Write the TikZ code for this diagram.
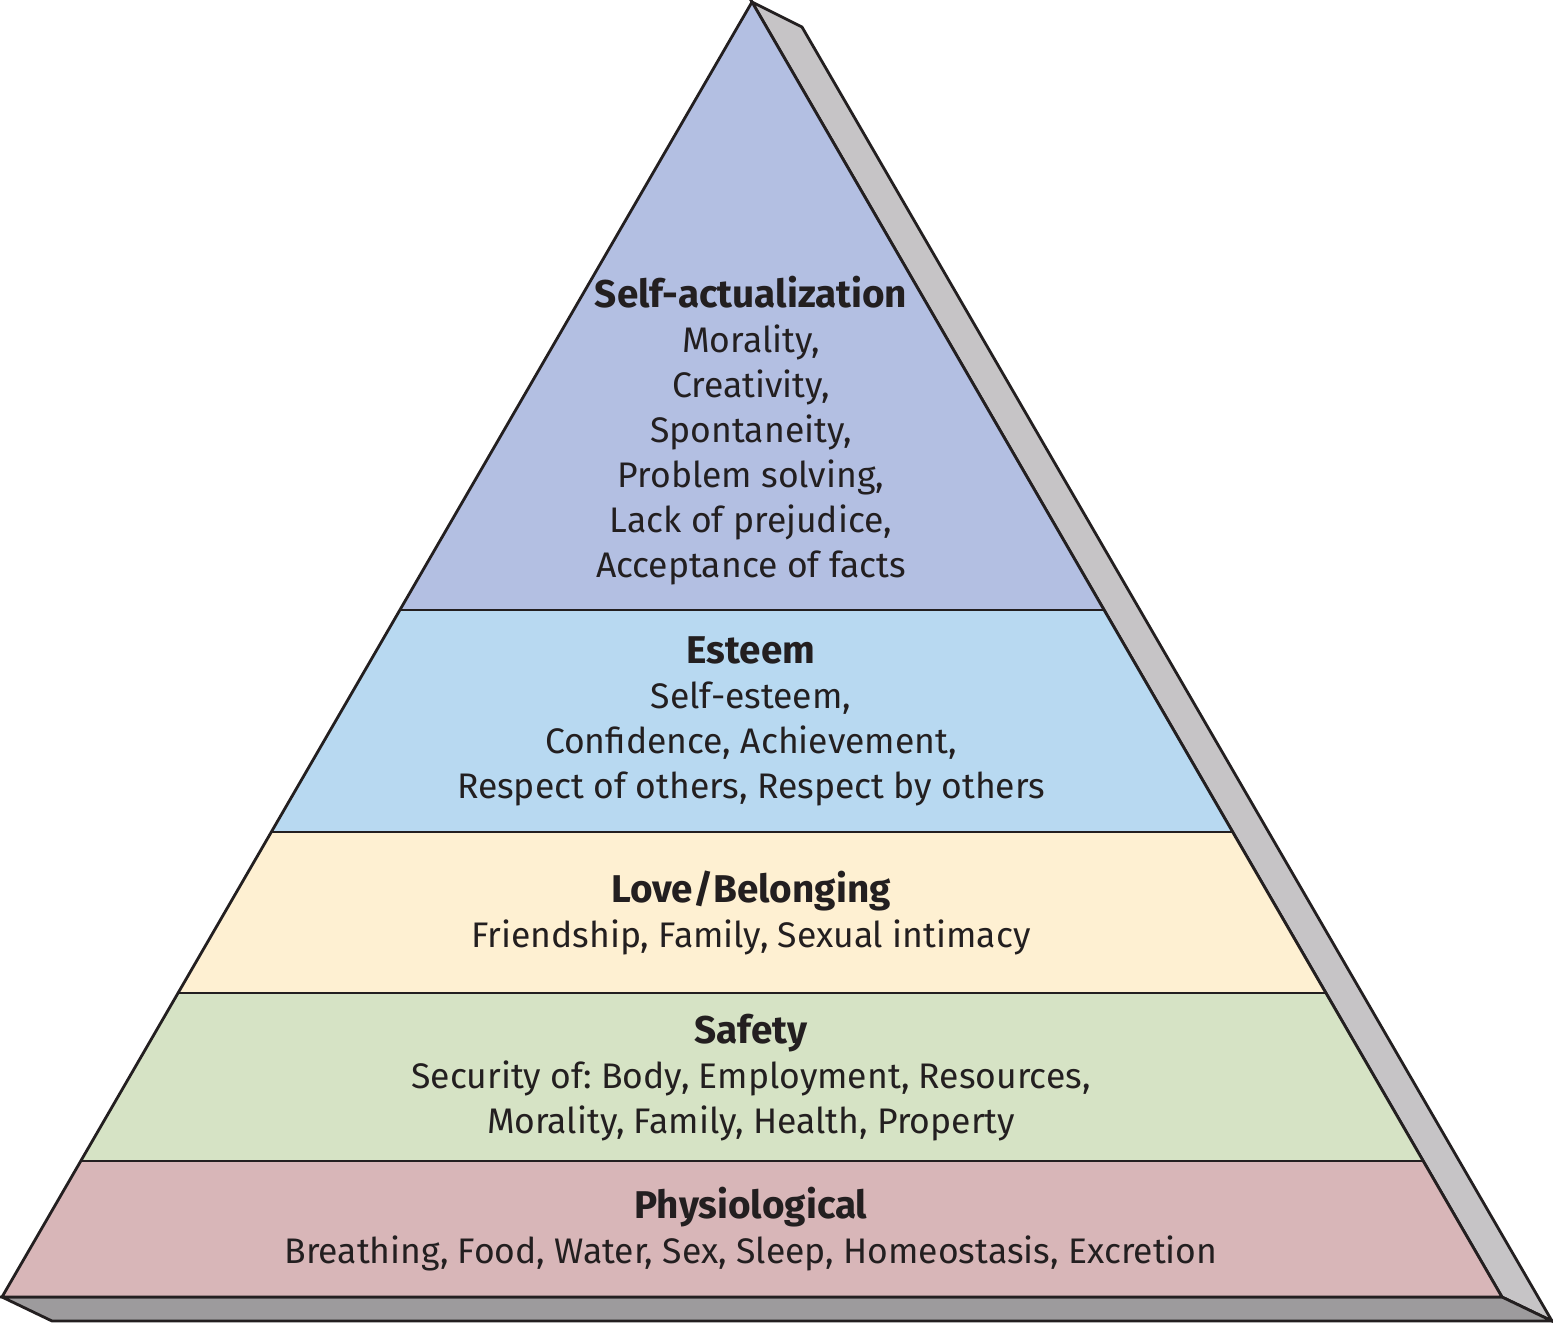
\documentclass[tikz,border=0pt]{standalone}
\usepackage{fontspec}
\setmainfont{Fira Sans}
\frenchspacing
\definecolor{selfcol}{HTML}{B3BFE2}
\definecolor{esteemcol}{HTML}{B8D9F1}
\definecolor{lovecol}{HTML}{FEF0D2}
\definecolor{safetycol}{HTML}{D6E3C5}
\definecolor{physcol}{HTML}{D8B6B8}
\definecolor{sidecol}{HTML}{C6C4C6}
\definecolor{basecol}{HTML}{9D9B9D}
\definecolor{inkcol}{HTML}{231F20}
\tikzset{
	edge/.style={draw=inkcol, line width=0.8pt, line join=miter},
	label/.style={align=center, inner sep=0pt, text=inkcol, font=\fontsize{10.1}{12.8}\selectfont},
}
\newcommand{\tier}[1]{{\fontsize{11}{12.8}\selectfont\bfseries #1}}
\begin{document}
\begin{tikzpicture}[x=0.01cm, y=-0.01cm]
	\useasboundingbox (0,0) rectangle (1553,1323);
	\filldraw[fill=sidecol, edge] (752,2) -- (802,27) -- (1552,1321) -- (1502,1297) -- cycle;
	\filldraw[fill=basecol, edge] (2,1297) -- (1502,1297) -- (1552,1321) -- (52,1321) -- cycle;
	\begin{scope}
		\clip (752,2) -- (1502,1297) -- (2,1297) -- cycle;
		\fill[selfcol] (0,0) rectangle (1553,610);
		\fill[esteemcol] (0,610) rectangle (1553,832);
		\fill[lovecol] (0,832) rectangle (1553,993);
		\fill[safetycol] (0,993) rectangle (1553,1161);
		\fill[physcol] (0,1161) rectangle (1553,1297);
	\end{scope}
	\draw[edge] (400,610) -- (1104,610);
	\draw[edge] (271,832) -- (1233,832);
	\draw[edge] (178,993) -- (1326,993);
	\draw[edge] (81,1161) -- (1423,1161);
	\draw[edge] (752,2) -- (1502,1297) -- (2,1297) -- cycle;
	\node[label] (self) at (751,431) {\tier{Self-actualization}\\ Morality,\\ Creativity,\\ Spontaneity,\\ Problem solving,\\ Lack of prejudice,\\ Acceptance of facts};
	\node[label] (esteem) at (751,721) {\tier{Esteem}\\ Self-esteem,\\ Confidence, Achievement,\\ Respect of others, Respect by others};
	\node[label] (love) at (751,913) {\tier{Love/Belonging}\\ Friendship, Family, Sexual intimacy};
	\node[label] (safety) at (751,1078) {\tier{Safety}\\ Security of: Body, Employment, Resources,\\ Morality, Family, Health, Property};
	\node[label] (physio) at (751,1229) {\tier{Physiological}\\ Breathing, Food, Water, Sex, Sleep, Homeostasis, Excretion};
\end{tikzpicture}
\end{document}
